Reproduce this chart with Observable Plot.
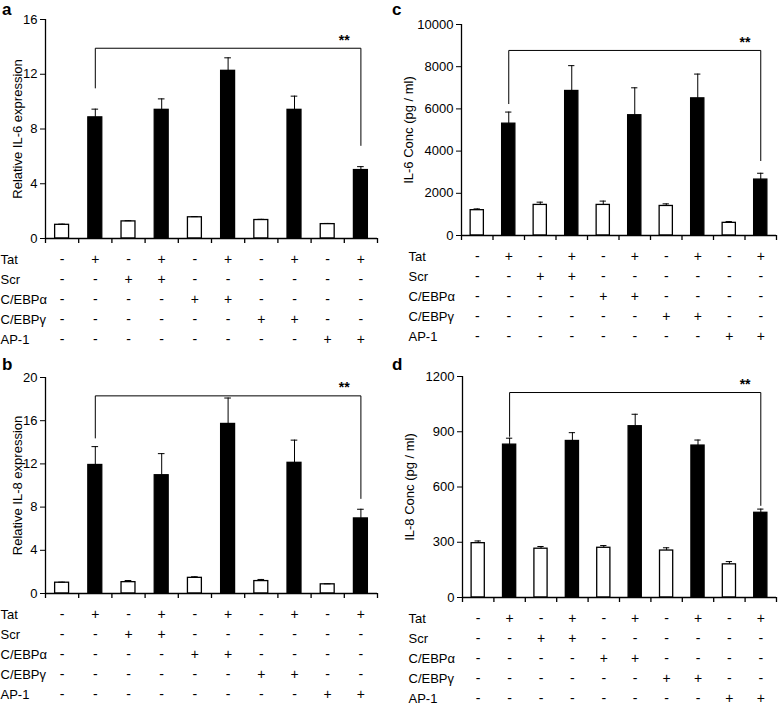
<!DOCTYPE html>
<html><head><meta charset="utf-8">
<script src="https://cdn.jsdelivr.net/npm/d3@7"></script>
<script src="https://cdn.jsdelivr.net/npm/@observablehq/plot@0.6"></script>
<style>
body{margin:0;background:#fff;font-family:"Liberation Sans",Arial,sans-serif}
#wrap{position:relative;width:778px;height:705px}
.p{position:absolute}
.lab{position:absolute;font:bold 17px "Liberation Sans",Arial,sans-serif}
</style></head><body><div id="wrap"></div>
<script>
const groups = [1,2,3,4,5,6,7,8,9,10];
const rowLabels = ["Tat","Scr","C/EBPα","C/EBPγ","AP-1"];
const tat    = ["-","+","-","+","-","+","-","+","-","+"];
const scr    = ["-","-","+","+","-","-","-","-","-","-"];
const cebpa  = ["-","-","-","-","+","+","-","-","-","-"];
const cebpg  = ["-","-","-","-","-","-","+","+","-","-"];
const ap1    = ["-","-","-","-","-","-","-","-","+","+"];
const il6rel = [1.0,8.85,1.25,9.4,1.55,12.25,1.35,9.4,1.05,5.0];
const il6relErr = [0.05,0.6,0.05,0.8,0.05,0.95,0.05,1.0,0.05,0.25];
const il8rel = [1.0,11.9,1.05,10.95,1.45,15.7,1.15,12.1,0.85,6.95];
const il8relErr = [0.05,1.7,0.15,2.0,0.1,2.4,0.15,2.1,0.05,0.85];
const il6conc = [1200,5300,1450,6850,1450,5700,1400,6500,600,2650];
const il6concErr = [60,550,130,1200,180,1300,100,1150,60,300];
const il8conc = [295,830,265,850,270,930,255,825,180,460];
const il8concErr = [12,35,12,45,12,65,15,30,15,20];

const rows = [tat,scr,cebpa,cebpg,ap1];

function panel({vals,errs,ymax,yticks,label,left,top,mL,mT,mB,labelOffset,bracket}){
  const data = groups.map((g,i)=>({g,v:vals[i],e:errs[i],fill:i%2?"black":"white"}));
  const [b1,b2,by,byL,byR] = bracket;
  const right = left>300;
  const rowMarks = [];
  rows.forEach((r,ri)=>{
    const dy = 21+ri*20;
    rowMarks.push(Plot.text(groups.map((g,i)=>({g,s:r[i]})),{x:"g",y:()=>0,text:"s",dy,fontSize:14,fill:"black",textAnchor:"middle"}));
    rowMarks.push(Plot.text([rowLabels[ri]],{frameAnchor:"left",y:()=>0,text:d=>d,dy,dx:-mL+(right?18:0),textAnchor:"start",fontSize:13,fill:"black"}));
  });
  const chart = Plot.plot({
    width:right?388:389,height:352,marginLeft:mL,marginTop:mT,marginBottom:mB,marginRight:right?2:12,
    style:{fontFamily:"Liberation Sans, Arial, sans-serif",fontSize:"13px",overflow:"visible"},
    x:{domain:[0.5,10.5],axis:null},
    y:{domain:[0,ymax],axis:null},
    marks:[
      Plot.rectY(data,{x1:d=>d.g-0.21,x2:d=>d.g+0.21,y1:0,y2:"v",fill:d=>d.fill,stroke:"black",strokeWidth:1.3}),
      Plot.ruleX(data,{x:"g",y1:"v",y2:d=>d.v+d.e,stroke:"black"}),
      Plot.ruleY(data,{y:d=>d.v+d.e,x1:d=>d.g-0.1,x2:d=>d.g+0.1,stroke:"black"}),
      Plot.axisX({ticks:[0.5,1.5,2.5,3.5,4.5,5.5,6.5,7.5,8.5,9.5,10.5],tickFormat:()=>"",tickSize:5,strokeWidth:1.3}),
      Plot.ruleY([0],{strokeWidth:1.3}),
      Plot.ruleX([0.5],{strokeWidth:1.3}),
      Plot.axisY({ticks:yticks,tickFormat:d=>String(d),tickSize:5,tickPadding:3,label,labelAnchor:"center",labelArrow:"none",labelOffset,fontSize:13}),
      Plot.line([[b1,byL],[b1,by],[b2,by],[b2,byR]],{stroke:"black",strokeWidth:1}),
      Plot.text([{x:b2-0.5,y:by}],{x:"x",y:"y",text:()=>"**",dy:-8,fontSize:14,fontWeight:"bold",fill:"black"}),
      ...rowMarks
    ]
  });
  const div=document.createElement("div");div.className="p";div.style.left=left+"px";div.style.top=top+"px";
  div.appendChild(chart);document.getElementById("wrap").appendChild(div);
}
panel({vals:il6rel,errs:il6relErr,ymax:16,yticks:[0,4,8,12,16],label:"Relative IL-6 expression",left:0,top:0,mL:45,mT:19,mB:114,labelOffset:33,bracket:[2,10,13.9,11,6.8]});
panel({vals:il8rel,errs:il8relErr,ymax:20,yticks:[0,4,8,12,16,20],label:"Relative IL-8 expression",left:0,top:353,mL:45,mT:24,mB:112,labelOffset:33,bracket:[2,10,18.3,14.4,8.8]});
panel({vals:il6conc,errs:il6concErr,ymax:10000,yticks:[0,2000,4000,6000,8000,10000],label:"IL-6 Conc (pg / ml)",left:390,top:0,mL:71,mT:24,mB:117,labelOffset:58,bracket:[2,10,8770,6250,3550]});
panel({vals:il8conc,errs:il8concErr,ymax:1200,yticks:[0,300,600,900,1200],label:"IL-8 Conc (pg / ml)",left:390,top:353,mL:72,mT:23,mB:108,labelOffset:58,bracket:[2,10,1113,875,500]});
[["a",2,0],["b",2,355],["c",392,0],["d",392,355]].forEach(([t,x,y])=>{const s=document.createElement("div");s.className="lab";s.textContent=t;s.style.left=x+"px";s.style.top=y+"px";document.getElementById("wrap").appendChild(s);});
</script></body></html>
